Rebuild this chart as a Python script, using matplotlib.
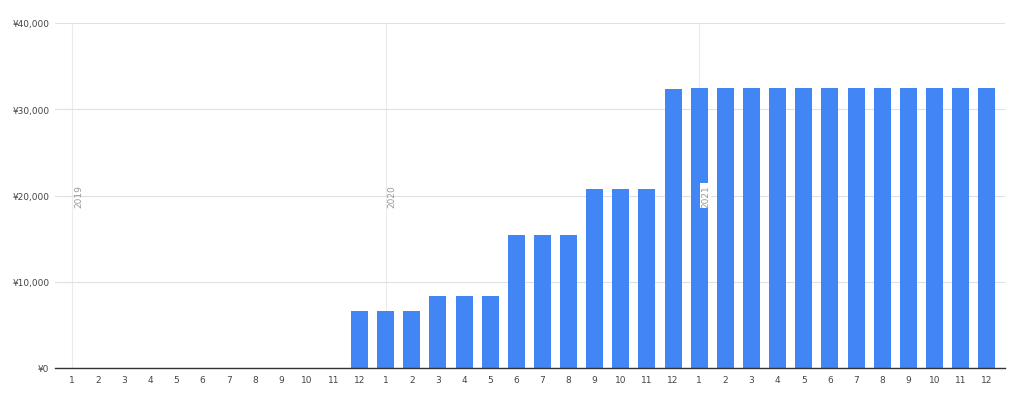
import numpy as np
import matplotlib.pyplot as plt
from matplotlib.ticker import FuncFormatter

years = [2019, 2020, 2021]
month_labels = [str(m) for m in range(1, 13)] * 3
values = [0] * 11 + [6650] \
    + [6650, 6650, 8300, 8300, 8300, 15400, 15400, 15400, 20700, 20700, 20700, 32400] \
    + [32500] * 12

x = np.arange(len(values))

fig = plt.figure(figsize=(10.24, 4.02), dpi=100)
ax = fig.add_axes([55/1024, 1 - 369/402, 950/1024, 345/402])

ax.bar(x, values, width=0.65, color="#4285f4", zorder=3)

# year separators
for i, yr in enumerate(years):
    xi = i * 12
    ax.axvline(xi, color="#ebebeb", lw=0.8, zorder=1)
    ax.text(xi + 0.25, 20000, str(yr), rotation=90, ha="center", va="center",
            fontsize=6.5, color="#999999", zorder=4,
            bbox=dict(boxstyle="square,pad=0.1", fc="white", ec="none") if yr == 2021 else None)

ax.set_xlim(-0.65, len(values) - 0.3)
ax.set_ylim(0, 40000)
ax.set_yticks([0, 10000, 20000, 30000, 40000])
ax.yaxis.set_major_formatter(FuncFormatter(lambda v, p: f"¥{int(v):,}"))
ax.set_xticks(x)
ax.set_xticklabels(month_labels)

ax.grid(axis="y", color="#e0e0e0", lw=0.8, zorder=0)
for s in ["top", "right", "left"]:
    ax.spines[s].set_visible(False)
ax.spines["bottom"].set_color("#333333")
ax.spines["bottom"].set_linewidth(1.0)
ax.spines["bottom"].set_zorder(5)
ax.tick_params(axis="both", length=0, labelsize=6.5, labelcolor="#444444")
ax.tick_params(axis="y", pad=4)
ax.tick_params(axis="x", pad=5)

fig.savefig("out.png", dpi=100)
